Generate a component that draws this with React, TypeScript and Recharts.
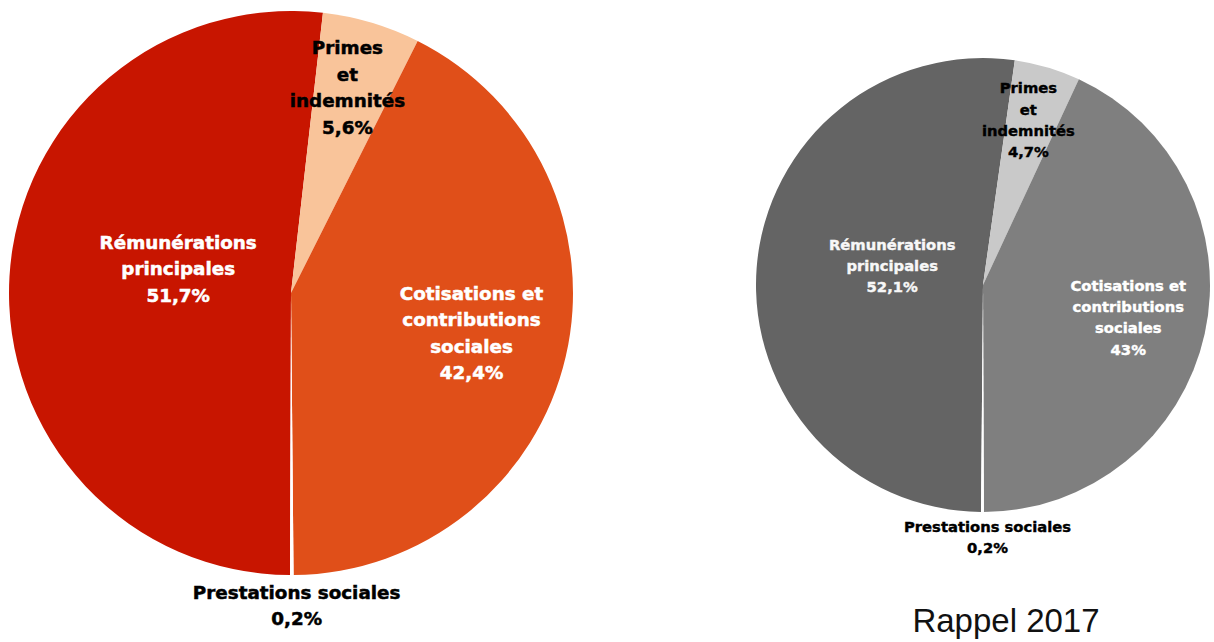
import React from 'react';
import { PieChart, Pie, Cell } from 'recharts';

const categories = [
  'Rémunérations principales',
  'Primes et indemnités',
  'Cotisations et contributions sociales',
  'Prestations sociales',
];
const labelLines = [
  ['Rémunérations', 'principales'],
  ['Primes', 'et', 'indemnités'],
  ['Cotisations et', 'contributions', 'sociales'],
  ['Prestations sociales'],
];
const values2018 = [51.7, 5.6, 42.4, 0.2];
const values2017 = [52.1, 4.7, 43, 0.2];
const colors2018 = ['#c81500', '#f9c49a', '#e04f19', '#ffffff'];
const colors2017 = ['#646464', '#c9c9c9', '#7f7f7f', '#ffffff'];
const textColors2018 = ['#ffffff', '#000000', '#ffffff', '#000000'];
const textColors2017 = ['#f7f7f7', '#000000', '#ffffff', '#000000'];
// label block centre, as fractions of the outer radius from the pie centre
const labelOffsets = [
  [-0.40, -0.088],
  [0.20, -0.73],
  [0.64, 0.14],
  [0.02, 1.107],
];
const title2017 = 'Rappel 2017';

const data2018 = categories.map((name, i) => ({ name, value: values2018[i] }));
const data2017 = categories.map((name, i) => ({ name, value: values2017[i] }));

const fmt = (v: number) => String(v).replace('.', ',') + '%';

const makeLabel = (textColors: string[]) => (props: any) => {
  const { cx, cy, outerRadius, index, value } = props;
  const R = outerRadius;
  const fs = R * 0.065;
  const lh = R * 0.094;
  const lines = [...labelLines[index], fmt(value)];
  const x = cx + labelOffsets[index][0] * R;
  const yc = cy + labelOffsets[index][1] * R;
  const y0 = yc - ((lines.length - 1) * lh) / 2;
  return (
    <text
      x={x}
      y={y0}
      textAnchor="middle"
      dominantBaseline="central"
      fill={textColors[index]}
      stroke={textColors[index]}
      strokeWidth={R * 0.0018}
      style={{ fontFamily: '"DejaVu Sans", Verdana, sans-serif', fontWeight: 700, fontSize: fs }}
    >
      {lines.map((l, i) => (
        <tspan key={i} x={x} y={y0 + i * lh}>
          {l}
        </tspan>
      ))}
    </text>
  );
};

export default function App() {
  return (
    <div style={{ position: 'absolute', left: 0, top: 0, width: 1214, height: 642, background: '#fff' }}>
      <PieChart width={1214} height={642} margin={{ top: 0, right: 0, bottom: 0, left: 0 }}>
        <Pie
          data={data2018}
          dataKey="value"
          nameKey="name"
          cx={291}
          cy={293}
          outerRadius={282}
          startAngle={-90.2}
          endAngle={-450.2}
          stroke="none"
          labelLine={false}
          label={makeLabel(textColors2018)}
          isAnimationActive={false}
        >
          {data2018.map((d, i) => (
            <Cell key={i} fill={colors2018[i]} />
          ))}
        </Pie>
        <Pie
          data={data2017}
          dataKey="value"
          nameKey="name"
          cx={983}
          cy={285}
          outerRadius={227}
          startAngle={-90.5}
          endAngle={-450.5}
          stroke="none"
          labelLine={false}
          label={makeLabel(textColors2017)}
          isAnimationActive={false}
        >
          {data2017.map((d, i) => (
            <Cell key={i} fill={colors2017[i]} />
          ))}
        </Pie>
      </PieChart>
      <svg width={1214} height={642} style={{ position: 'absolute', left: 0, top: 0, pointerEvents: 'none' }}>
        <text
          x={1006}
          y={632}
          textAnchor="middle"
          fill="#111"
          style={{ fontFamily: '"Liberation Sans", Arial, sans-serif', fontSize: 33 }}
        >
          {title2017}
        </text>
      </svg>
    </div>
  );
}
